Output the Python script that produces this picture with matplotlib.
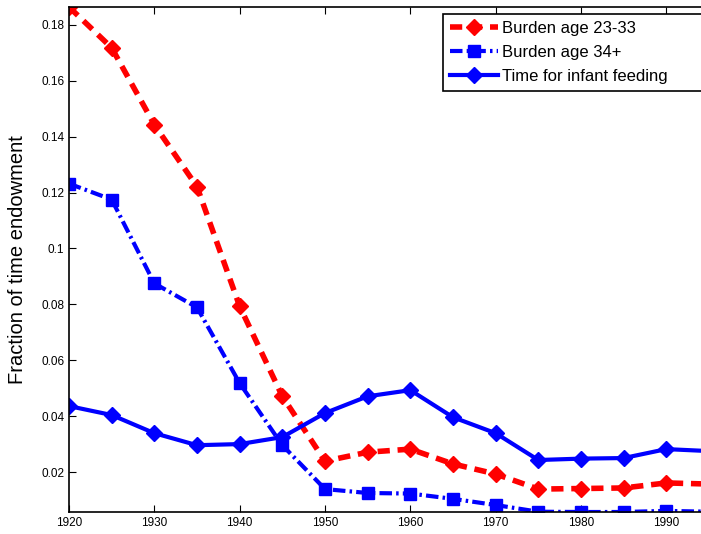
import numpy as np
import matplotlib
matplotlib.use("Agg")
import matplotlib.pyplot as plt
from matplotlib.ticker import FuncFormatter

# ── Data ──────────────────────────────────────────────────────────────────────
years = [1920, 1925, 1930, 1935, 1940, 1945, 1950, 1955, 1960, 1965,
         1970, 1975, 1980, 1985, 1990, 1995]

burden_23_33 = [0.1864, 0.1718, 0.1443, 0.1221, 0.0793, 0.0471, 0.0239, 0.0271,
                0.0282, 0.0229, 0.0193, 0.0139, 0.0141, 0.0143, 0.0161, 0.0157]

burden_34 = [0.1232, 0.1175, 0.0875, 0.0789, 0.0518, 0.0296, 0.0139, 0.0125,
             0.0123, 0.0104, 0.0082, 0.0058, 0.0057, 0.0057, 0.0061, 0.0058]

infant_feeding = [0.0436, 0.0404, 0.0339, 0.0296, 0.0300, 0.0325, 0.0411, 0.0471,
                  0.0493, 0.0396, 0.0339, 0.0243, 0.0248, 0.0250, 0.0282, 0.0275]

labels = ["Burden age 23-33", "Burden age 34+", "Time for infant feeding"]

# ── Plot ──────────────────────────────────────────────────────────────────────
plt.rcParams["font.family"] = ["Liberation Sans", "DejaVu Sans"]

fig = plt.figure(figsize=(7.01, 5.34), dpi=100)
ax = fig.add_axes([69 / 701, 1 - 512 / 534, 640 / 701, 505 / 534])

ax.plot(years, burden_23_33, color="#ff0000", ls=(0, (2.2, 1.4)), lw=4,
        marker="D", ms=8.5, label=labels[0])
ax.plot(years, burden_34, color="#0000ff", ls=(0, (3, 1, 0.6, 1)), lw=3,
        marker="s", ms=8.5, label=labels[1])
ax.plot(years, infant_feeding, color="#0000ff", ls="-", lw=3,
        marker="D", ms=8.5, label=labels[2])

ax.set_xlim(1920, 1995)
ax.set_ylim(0.0057, 0.1864)
ax.set_xticks(np.arange(1920, 1991, 10))
ax.set_yticks(np.arange(0.02, 0.181, 0.02))
ax.yaxis.set_major_formatter(FuncFormatter(lambda v, p: f"{v:g}"))
ax.tick_params(direction="in", top=True, right=True, labelsize=8.5, length=5)
ax.set_ylabel("Fraction of time endowment", fontsize=14.5)
ax.yaxis.set_label_coords(-0.066, 0.5)
for s in ax.spines.values():
    s.set_linewidth(1.2)

leg = ax.legend(loc="upper left",
                bbox_to_anchor=(443 / 701, 1 - 92 / 534, 300 / 701, 78 / 534),
                bbox_transform=fig.transFigure, mode="expand", fontsize=12,
                handlelength=2.9, fancybox=False, edgecolor="black",
                framealpha=1, borderaxespad=0, borderpad=0.42,
                labelspacing=0.55, handletextpad=0.2)
leg.get_frame().set_linewidth(1.2)

fig.savefig("out.png", dpi=100)
